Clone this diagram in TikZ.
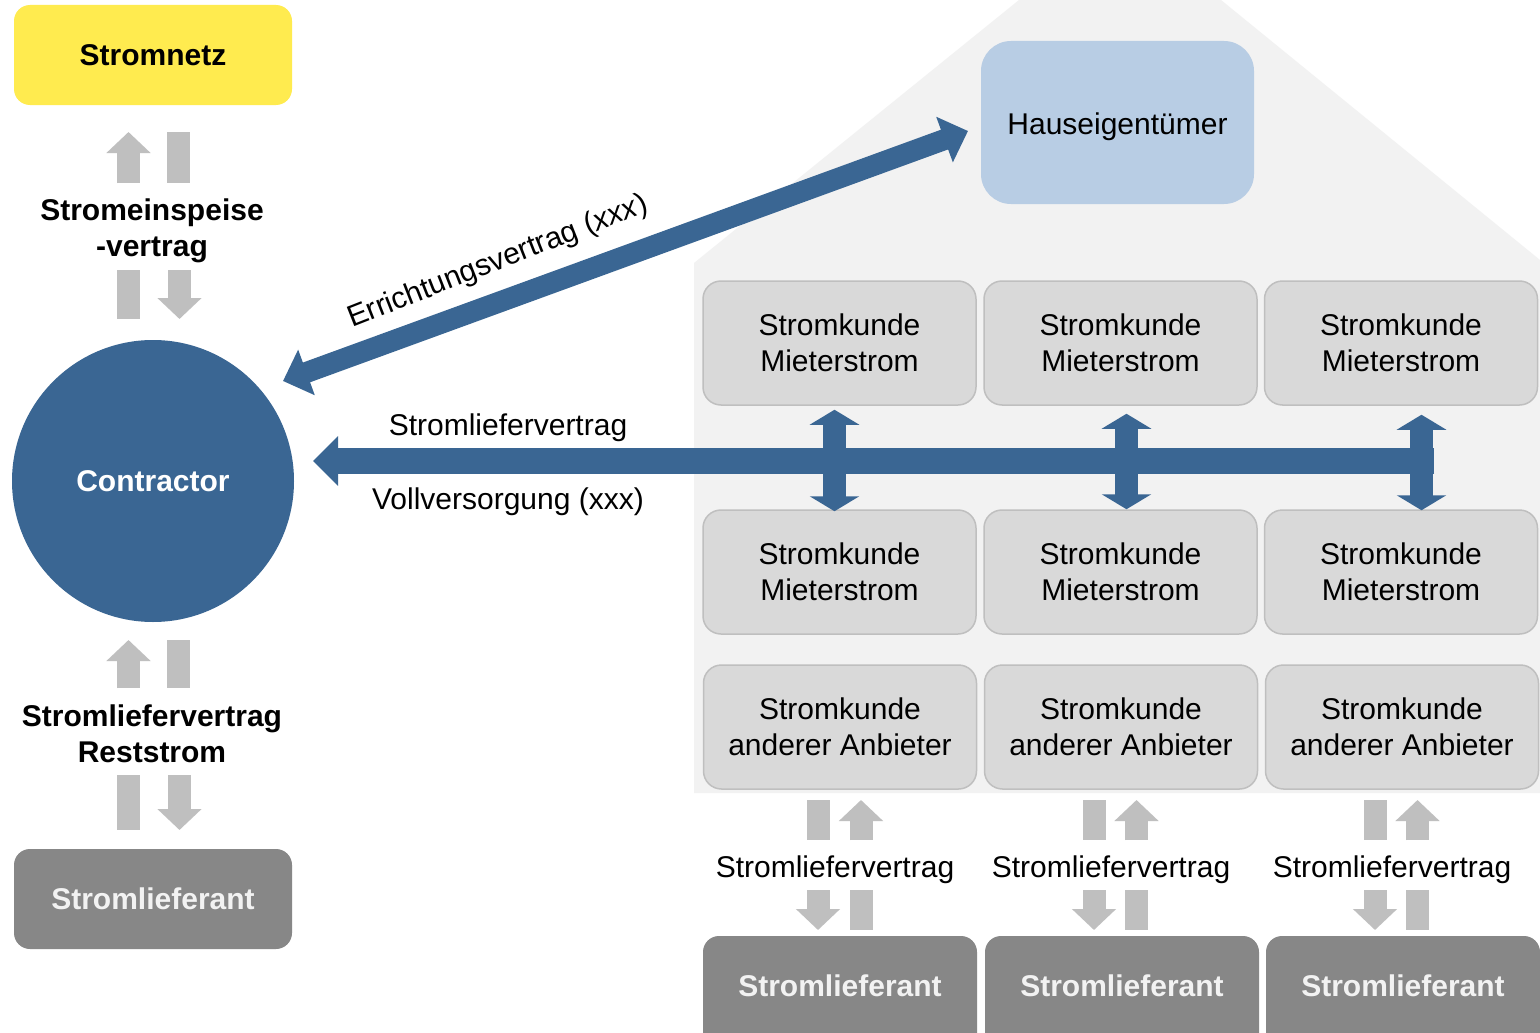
\documentclass[tikz,border=0pt]{standalone}
\usepackage{fontspec}
\setmainfont{Liberation Sans}
\usetikzlibrary{arrows.meta}
\definecolor{cblue}{HTML}{3A6693}
\definecolor{cyellow}{HTML}{FFEB4F}
\definecolor{lblue}{HTML}{B8CDE4}
\definecolor{housegray}{HTML}{F2F2F2}
\definecolor{kbox}{HTML}{D9D9D9}
\definecolor{kline}{HTML}{BFBFBF}
\definecolor{garrow}{HTML}{BFBFBF}
\definecolor{lief}{HTML}{878787}
\definecolor{lieftext}{HTML}{F2F2F2}
\begin{document}
\begin{tikzpicture}[x=1pt,y=-1pt,
  txt/.style={font=\fontsize{30}{36}\selectfont, align=center, inner sep=0pt},
  btxt/.style={font=\fontsize{30}{36}\selectfont\bfseries, align=center, inner sep=0pt},
  kunde/.style={txt, draw=kline, line width=1.5pt, fill=kbox, rounded corners=18pt,
    minimum width=273pt, minimum height=124pt},
  liefbox/.style={btxt, fill=lief, text=lieftext, rounded corners=16pt,
    minimum width=278pt, minimum height=100pt},
  gup/.style={garrow, line width=23pt, -{Triangle[width=43pt,length=21pt]}},
  gbar/.style={fill=garrow},
  bigarrow/.style={cblue, line width=26pt, -{Triangle[width=48pt,length=25pt]}},
  diagarrow/.style={cblue, line width=21pt, {Triangle[width=47pt,length=25pt]}-{Triangle[width=47pt,length=25pt]}},
  vdarrow/.style={cblue, line width=23pt, {Triangle[width=49pt,length=15pt]}-{Triangle[width=49pt,length=15pt]}}
]
\useasboundingbox (0,0) rectangle (1540,1033);
\fill[white] (0,0) rectangle (1540,1033);

% house shape
\fill[housegray] (694,793) -- (694,263) -- (1019,0) -- (1221,0) -- (1540,260) -- (1540,793) -- cycle;

% left column
\node[btxt, fill=cyellow, rounded corners=16pt, minimum width=278pt, minimum height=100pt] (netz) at (153,55) {Stromnetz};
\node[btxt] (einsp) at (152,231) {Stromeinspeise\\-vertrag};
\node[circle, fill=cblue, minimum size=282pt, inner sep=0pt, btxt, text=white] (contractor) at (153,481) {Contractor};
\node[btxt] (rest) at (152,734) {Stromliefervertrag\\Reststrom};
\node[liefbox] (liefL) at (153,899) {Stromlieferant};

% gray arrows left
\draw[gup] (128.5,183) -- (128.5,132);
\fill[gbar] (167,132) rectangle (190,183);
\fill[gbar] (117,270) rectangle (140,319);
\draw[gup] (179.5,270) -- (179.5,319);
\draw[gup] (128.5,688) -- (128.5,640);
\fill[gbar] (167,640) rectangle (190,688);
\fill[gbar] (117,775) rectangle (140,830);
\draw[gup] (179.5,775) -- (179.5,830);

% owner
\node[fill=lblue, rounded corners=30pt, minimum width=273pt, minimum height=163pt, inner sep=0pt,
  label={[txt, yshift=-4pt]center:Hauseigentümer}] (haus) at (1117.5,122.5) {};

% customer grid
\node[kunde] (k11) at (839.5,343) {Stromkunde\\Mieterstrom};
\node[kunde] (k12) at (1120.5,343) {Stromkunde\\Mieterstrom};
\node[kunde] (k13) at (1401,343) {Stromkunde\\Mieterstrom};
\node[kunde] (k21) at (839.5,572) {Stromkunde\\Mieterstrom};
\node[kunde] (k22) at (1120.5,572) {Stromkunde\\Mieterstrom};
\node[kunde] (k23) at (1401,572) {Stromkunde\\Mieterstrom};
\node[kunde] (k31) at (840,727) {Stromkunde\\anderer Anbieter};
\node[kunde] (k32) at (1121,727) {Stromkunde\\anderer Anbieter};
\node[kunde] (k33) at (1402,727) {Stromkunde\\anderer Anbieter};

% bottom suppliers
\node[liefbox, minimum width=274pt, minimum height=120pt,
  label={[btxt, text=lieftext, yshift=10pt]center:Stromlieferant}] (lief1) at (840,996) {};
\node[liefbox, minimum width=274pt, minimum height=120pt,
  label={[btxt, text=lieftext, yshift=10pt]center:Stromlieferant}] (lief2) at (1122,996) {};
\node[liefbox, minimum width=274pt, minimum height=120pt,
  label={[btxt, text=lieftext, yshift=10pt]center:Stromlieferant}] (lief3) at (1403,996) {};

% bottom labels
\node[txt] (sv1) at (835,870) {Stromliefervertrag};
\node[txt] (sv2) at (1111,870) {Stromliefervertrag};
\node[txt] (sv3) at (1392,870) {Stromliefervertrag};

% bottom gray arrows
\fill[gbar] (807,800) rectangle (830,840);
\draw[gup] (861,840) -- (861,800);
\draw[gup] (818,890) -- (818,930);
\fill[gbar] (850,890) rectangle (873,930);
\fill[gbar] (1083,800) rectangle (1106,840);
\draw[gup] (1136.5,840) -- (1136.5,800);
\draw[gup] (1094,890) -- (1094,930);
\fill[gbar] (1125,890) rectangle (1148,930);
\fill[gbar] (1364,800) rectangle (1387,840);
\draw[gup] (1417.5,840) -- (1417.5,800);
\draw[gup] (1375,890) -- (1375,930);
\fill[gbar] (1406,890) rectangle (1429,930);

% blue connectors
\coordinate (dA) at (283,381);
\coordinate (dB) at (968,131);
\draw[diagarrow] (dA) -- (dB);
\node[txt, rotate=21.5] (errl) at (498,262) {Errichtungsvertrag (\textit{xxx})};

\coordinate (hend) at (1434,461);
\coordinate (htip) at (313,461);
\draw[bigarrow] (hend) -- (htip);
\node[txt] (slv) at (508,428) {Stromliefervertrag};
\node[txt] (voll) at (508,502) {Vollversorgung (xxx)};

\draw[vdarrow] ([xshift=-5pt,yshift=-4pt]k11.south) -- ([xshift=-5pt,yshift=-2pt]k21.north);
\draw[vdarrow] ([xshift=6pt,yshift=-8pt]k12.south) -- ([xshift=6pt,yshift=0pt]k22.north);
\draw[vdarrow] ([xshift=20.5pt,yshift=-9pt]k13.south) -- ([xshift=20.5pt,yshift=-1pt]k23.north);
\end{tikzpicture}
\end{document}
